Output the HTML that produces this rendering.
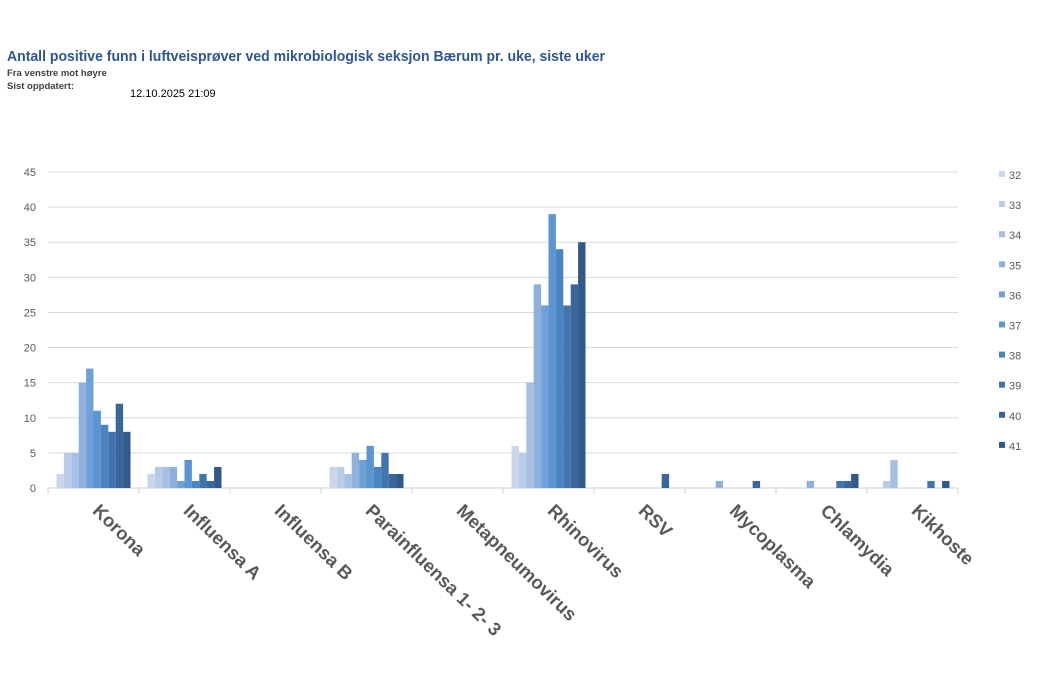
<!DOCTYPE html>
<html><head><meta charset="utf-8"><style>
body{margin:0;background:#fff;width:1040px;height:694px;overflow:hidden;font-family:"Liberation Sans",sans-serif}
</style></head><body>
<svg id="s" width="1040" height="694" xmlns="http://www.w3.org/2000/svg" font-family="Liberation Sans, sans-serif">
<text x="7" y="61" font-size="14.5" font-weight="bold" fill="#2f5597" textLength="598" lengthAdjust="spacingAndGlyphs">Antall positive funn i luftveisprøver ved mikrobiologisk seksjon Bærum pr. uke, siste uker</text>
<text x="7" y="76" font-size="9.5" font-weight="bold" fill="#404040">Fra venstre mot høyre</text>
<text x="7" y="89" font-size="9.5" font-weight="bold" fill="#404040">Sist oppdatert:</text>
<text x="130" y="97" font-size="11" fill="#000">12.10.2025 21:09</text>
<g id="g"></g>
</svg>
<script>
(function(){
const g=document.getElementById('g');const NS='http://www.w3.org/2000/svg';
function el(t,a,txt){const e=document.createElementNS(NS,t);for(const k in a)e.setAttribute(k,a[k]);if(txt!==undefined)e.textContent=txt;g.appendChild(e);return e;}
const x0=48,x1=958,base=488,ytop=172,sc=(base-ytop)/45;
for(let v=5;v<=45;v+=5){const y=base-v*sc;el('line',{x1:x0,x2:x1,y1:y,y2:y,stroke:'#d9d9d9','stroke-width':1});}
for(let v=0;v<=45;v+=5){el('text',{x:36,y:base-v*sc+4,'font-size':11,fill:'#595959','text-anchor':'end'},v);}
el('line',{x1:x0,x2:x1,y1:base,y2:base,stroke:'#d0d0d0','stroke-width':1});
const cats=['Korona','Influensa A','Influensa B','Parainfluensa 1- 2- 3','Metapneumovirus','Rhinovirus','RSV','Mycoplasma','Chlamydia','Kikhoste'];
const data=[[2,5,5,15,17,11,9,8,12,8],[2,3,3,3,1,4,1,2,1,3],[0,0,0,0,0,0,0,0,0,0],[3,3,2,5,4,6,3,5,2,2],[0,0,0,0,0,0,0,0,0,0],[6,5,15,29,26,39,34,26,29,35],[0,0,0,0,0,0,0,0,2,0],[0,0,0,1,0,0,0,0,1,0],[0,0,0,1,0,0,0,1,1,2],[0,1,4,0,0,0,0,1,0,1]];
const cols=['#c9d7ec','#b8cbe7','#a6bfe2','#8eb0dd','#6fa0d8','#5b96d2','#4a85c2','#4174ac','#3b6699','#2f5a8a'];
const cw=(x1-x0)/10,bw=7.4,off=(cw-10*bw)/2;
for(let c=0;c<=10;c++){el('line',{x1:x0+c*cw,x2:x0+c*cw,y1:base,y2:base+6,stroke:'#d0d0d0'});}
for(let c=0;c<10;c++){for(let i=0;i<10;i++){const v=data[c][i];if(!v)continue;const h=v*sc;el('rect',{x:x0+c*cw+off+i*bw,y:base-h,width:bw,height:h,fill:cols[i]});}
 const cx=x0+c*cw+cw/2-2;el('text',{x:cx,y:512,'font-size':18.5,'font-weight':'bold',fill:'#595959',transform:'rotate(44 '+cx+' 512)'},cats[c]);}
for(let i=0;i<10;i++){const y=175+i*30.1;el('rect',{x:999,y:y-4,width:6,height:6,fill:cols[i]});el('text',{x:1009,y:y+4,'font-size':11,fill:'#595959'},32+i);}
})();
</script>
</body></html>
